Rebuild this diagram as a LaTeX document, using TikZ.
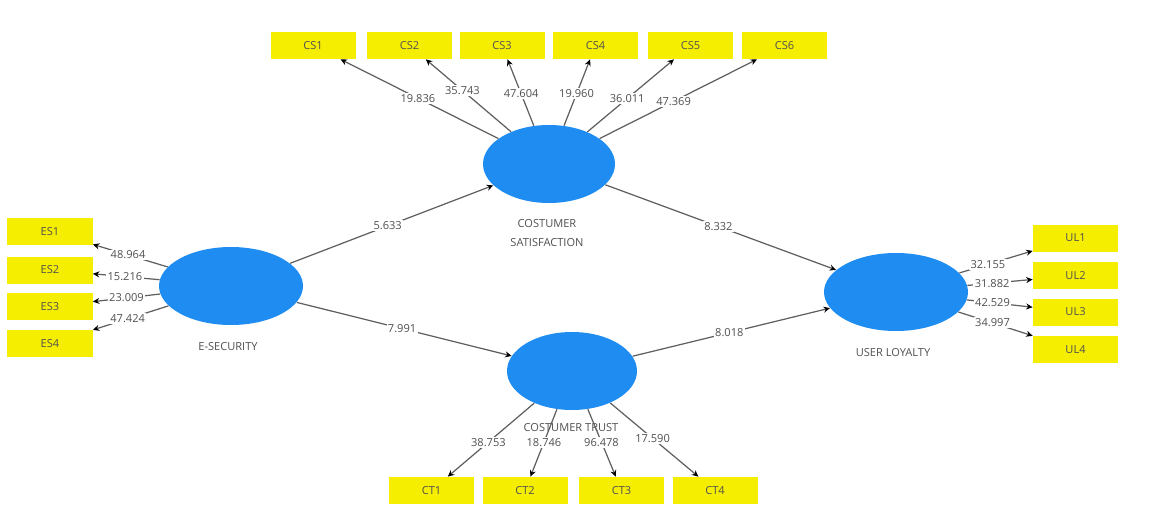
\documentclass[tikz,border=0pt]{standalone}
\usepackage{fontspec}
\setmainfont{Open Sans}
\usepackage{tikz}
\usetikzlibrary{shapes.geometric,arrows.meta}
\definecolor{lv-blue}{RGB}{30,140,240}
\definecolor{item-yellow}{RGB}{246,238,0}
\definecolor{txt-gray}{RGB}{80,80,80}
\definecolor{path-gray}{RGB}{95,95,95}

\begin{document}
\begin{tikzpicture}[x=0.2mm, y=-0.2mm,
        font=\fontsize{6.3}{7.5}\selectfont, text=txt-gray,
        latent/.style={ellipse, fill=lv-blue, inner sep=0pt, minimum height=15.6mm},
        item/.style={fill=item-yellow, minimum width=17mm, minimum height=5.4mm, inner sep=0pt},
        link/.style={draw=path-gray, line width=0.7pt, -{Stealth[length=1.3mm, width=1.2mm, color=black]}},
        val/.style={fill=white, inner sep=0.8pt}]
        \useasboundingbox (0,0) rectangle (1152,513);
        % Latent variables
        \node[latent, minimum width=26.4mm] (cs) at (549,164) {};
        \node[latent, minimum width=28.8mm] (es) at (231,286) {};
        \node[latent, minimum width=26mm] (ct) at (572,371) {};
        \node[latent, minimum width=28.8mm] (ul) at (896,292) {};
        \node[align=center, font=\fontsize{6.3}{10.5}\selectfont] (cs-name) at (547,233) {COSTUMER\\SATISFACTION};
        \node (es-name) at (228,347) {E-SECURITY};
        \node (ct-name) at (571,428) {COSTUMER TRUST};
        \node (ul-name) at (893,353) {USER LOYALTY};
        % Indicators
        \node[item] (cs1) at (313,45.5) {CS1};
        \node[item] (cs2) at (409.5,45.5) {CS2};
        \node[item] (cs3) at (502,45.5) {CS3};
        \node[item] (cs4) at (595.5,45.5) {CS4};
        \node[item] (cs5) at (690.5,45.5) {CS5};
        \node[item] (cs6) at (784.5,45.5) {CS6};
        \node[item] (es1) at (50,231.5) {ES1};
        \node[item] (es2) at (50,270) {ES2};
        \node[item] (es3) at (50,306.5) {ES3};
        \node[item] (es4) at (50,343.5) {ES4};
        \node[item] (ul1) at (1075.5,238) {UL1};
        \node[item] (ul2) at (1075.5,275.5) {UL2};
        \node[item] (ul3) at (1075.5,312) {UL3};
        \node[item] (ul4) at (1075.5,349.5) {UL4};
        \node[item] (ct1) at (431.5,490.5) {CT1};
        \node[item] (ct2) at (525,490.5) {CT2};
        \node[item] (ct3) at (621.5,490.5) {CT3};
        \node[item] (ct4) at (715,490.5) {CT4};
        % Inner model
        \draw[link] (es) -- node[val, pos=0.48] (p-es-cs) {5.633} (cs);
        \draw[link] (es) -- node[val, pos=0.49] (p-es-ct) {7.991} (ct);
        \draw[link] (cs) -- node[val, pos=0.49] (p-cs-ul) {8.332} (ul);
        \draw[link] (ct) -- node[val, pos=0.49] (p-ct-ul) {8.018} (ul);
        % Outer loadings
        \draw[link] (cs) -- node[val, pos=0.51] (l-cs1) {19.836} (cs1);
        \draw[link] (cs) -- node[val, pos=0.57] (l-cs2) {35.743} (cs2);
        \draw[link] (cs) -- node[val, pos=0.48] (l-cs3) {47.604} (cs3);
        \draw[link] (cs) -- node[val, pos=0.48] (l-cs4) {19.960} (cs4);
        \draw[link] (cs) -- node[val, pos=0.46] (l-cs5) {36.011} (cs5);
        \draw[link] (cs) -- node[val, pos=0.47] (l-cs6) {47.369} (cs6);
        \draw[link] (es) -- node[val, pos=0.53] (l-es1) {48.964} (es1);
        \draw[link] (es) -- node[val, pos=0.52] (l-es2) {15.216} (es2);
        \draw[link] (es) -- node[val, pos=0.50] (l-es3) {23.009} (es3);
        \draw[link] (es) -- node[val, pos=0.54] (l-es4) {47.424} (es4);
        \draw[link] (ul) -- node[val, pos=0.39] (l-ul1) {32.155} (ul1);
        \draw[link] (ul) -- node[val, pos=0.38] (l-ul2) {31.882} (ul2);
        \draw[link] (ul) -- node[val, pos=0.39] (l-ul3) {42.529} (ul3);
        \draw[link] (ul) -- node[val, pos=0.46] (l-ul4) {34.997} (ul4);
        \draw[link] (ct) -- node[val, pos=0.53] (l-ct1) {38.753} (ct1);
        \draw[link] (ct) -- node[val, pos=0.49] (l-ct2) {18.746} (ct2);
        \draw[link] (ct) -- node[val, pos=0.49] (l-ct3) {96.478} (ct3);
        \draw[link] (ct) -- node[val, pos=0.48] (l-ct4) {17.590} (ct4);
    \end{tikzpicture}
\end{document}
